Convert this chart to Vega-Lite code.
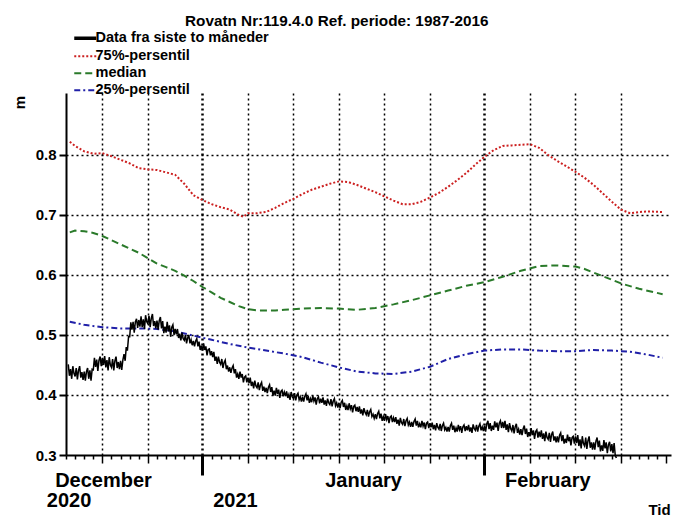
{
"$schema": "https://vega.github.io/schema/vega-lite/v6.json",
"width": 605,
"height": 362,
"autosize": {"type": "none"},
"padding": {"left": 66, "top": 93, "right": 3, "bottom": 62},
"background": "white",
"config": {"view": {"stroke": null}, "font": "Liberation Sans"},
"title": {"text": "Rovatn Nr:119.4.0 Ref. periode: 1987-2016", "anchor": "start", "frame": "group", "dx": 119, "offset": 2, "fontSize": 15.3, "fontWeight": "bold", "color": "black", "font": "Liberation Sans"},
"datasets": {
"months": [{"t":"2020-12-21T03:00","label":"December"},{"t":"2021-01-18T17:00","label":"January"},{"t":"2021-02-07T23:00","label":"February"}],
"years": [{"t":"2020-12-17T08:00","label":"2020"},{"t":"2021-01-04T15:00","label":"2021"}],
"q": [
{"s":"75%-persentil","t":"2020-12-17T10:00","v":0.822},{"s":"75%-persentil","t":"2020-12-18T00:00","v":0.815},{"s":"75%-persentil","t":"2020-12-19T00:00","v":0.806},{"s":"75%-persentil","t":"2020-12-20T00:00","v":0.802},{"s":"75%-persentil","t":"2020-12-21T00:00","v":0.803},{"s":"75%-persentil","t":"2020-12-22T00:00","v":0.798},{"s":"75%-persentil","t":"2020-12-23T00:00","v":0.792},{"s":"75%-persentil","t":"2020-12-24T00:00","v":0.786},{"s":"75%-persentil","t":"2020-12-25T00:00","v":0.778},{"s":"75%-persentil","t":"2020-12-26T00:00","v":0.776},{"s":"75%-persentil","t":"2020-12-27T00:00","v":0.775},{"s":"75%-persentil","t":"2020-12-28T00:00","v":0.771},{"s":"75%-persentil","t":"2020-12-29T00:00","v":0.767},{"s":"75%-persentil","t":"2020-12-30T00:00","v":0.752},{"s":"75%-persentil","t":"2020-12-31T00:00","v":0.733},{"s":"75%-persentil","t":"2021-01-01T00:00","v":0.725},{"s":"75%-persentil","t":"2021-01-02T00:00","v":0.718},{"s":"75%-persentil","t":"2021-01-03T00:00","v":0.713},{"s":"75%-persentil","t":"2021-01-04T00:00","v":0.709},{"s":"75%-persentil","t":"2021-01-05T00:00","v":0.700},{"s":"75%-persentil","t":"2021-01-05T12:00","v":0.697},{"s":"75%-persentil","t":"2021-01-06T00:00","v":0.703},{"s":"75%-persentil","t":"2021-01-07T00:00","v":0.703},{"s":"75%-persentil","t":"2021-01-08T00:00","v":0.705},{"s":"75%-persentil","t":"2021-01-09T00:00","v":0.712},{"s":"75%-persentil","t":"2021-01-10T00:00","v":0.720},{"s":"75%-persentil","t":"2021-01-11T00:00","v":0.727},{"s":"75%-persentil","t":"2021-01-12T00:00","v":0.735},{"s":"75%-persentil","t":"2021-01-13T00:00","v":0.742},{"s":"75%-persentil","t":"2021-01-14T00:00","v":0.747},{"s":"75%-persentil","t":"2021-01-15T00:00","v":0.752},{"s":"75%-persentil","t":"2021-01-16T00:00","v":0.756},{"s":"75%-persentil","t":"2021-01-17T00:00","v":0.755},{"s":"75%-persentil","t":"2021-01-18T00:00","v":0.750},{"s":"75%-persentil","t":"2021-01-19T00:00","v":0.744},{"s":"75%-persentil","t":"2021-01-20T00:00","v":0.738},{"s":"75%-persentil","t":"2021-01-21T00:00","v":0.731},{"s":"75%-persentil","t":"2021-01-22T00:00","v":0.724},{"s":"75%-persentil","t":"2021-01-23T00:00","v":0.718},{"s":"75%-persentil","t":"2021-01-24T00:00","v":0.718},{"s":"75%-persentil","t":"2021-01-25T00:00","v":0.722},{"s":"75%-persentil","t":"2021-01-26T00:00","v":0.729},{"s":"75%-persentil","t":"2021-01-27T00:00","v":0.737},{"s":"75%-persentil","t":"2021-01-28T00:00","v":0.747},{"s":"75%-persentil","t":"2021-01-29T00:00","v":0.758},{"s":"75%-persentil","t":"2021-01-30T00:00","v":0.770},{"s":"75%-persentil","t":"2021-01-31T00:00","v":0.784},{"s":"75%-persentil","t":"2021-02-01T00:00","v":0.797},{"s":"75%-persentil","t":"2021-02-02T00:00","v":0.808},{"s":"75%-persentil","t":"2021-02-03T00:00","v":0.815},{"s":"75%-persentil","t":"2021-02-04T00:00","v":0.816},{"s":"75%-persentil","t":"2021-02-05T00:00","v":0.817},{"s":"75%-persentil","t":"2021-02-06T00:00","v":0.818},{"s":"75%-persentil","t":"2021-02-07T00:00","v":0.812},{"s":"75%-persentil","t":"2021-02-08T00:00","v":0.800},{"s":"75%-persentil","t":"2021-02-09T00:00","v":0.790},{"s":"75%-persentil","t":"2021-02-10T00:00","v":0.781},{"s":"75%-persentil","t":"2021-02-11T00:00","v":0.772},{"s":"75%-persentil","t":"2021-02-12T00:00","v":0.762},{"s":"75%-persentil","t":"2021-02-13T00:00","v":0.750},{"s":"75%-persentil","t":"2021-02-14T00:00","v":0.736},{"s":"75%-persentil","t":"2021-02-15T00:00","v":0.722},{"s":"75%-persentil","t":"2021-02-16T00:00","v":0.709},{"s":"75%-persentil","t":"2021-02-17T00:00","v":0.703},{"s":"75%-persentil","t":"2021-02-18T00:00","v":0.705},{"s":"75%-persentil","t":"2021-02-19T00:00","v":0.706},{"s":"75%-persentil","t":"2021-02-20T14:00","v":0.705},
{"s":"median","t":"2020-12-17T10:00","v":0.671},{"s":"median","t":"2020-12-18T00:00","v":0.674},{"s":"median","t":"2020-12-19T00:00","v":0.673},{"s":"median","t":"2020-12-20T00:00","v":0.670},{"s":"median","t":"2020-12-21T00:00","v":0.665},{"s":"median","t":"2020-12-22T00:00","v":0.658},{"s":"median","t":"2020-12-23T00:00","v":0.651},{"s":"median","t":"2020-12-24T00:00","v":0.644},{"s":"median","t":"2020-12-25T00:00","v":0.637},{"s":"median","t":"2020-12-26T00:00","v":0.628},{"s":"median","t":"2020-12-27T00:00","v":0.619},{"s":"median","t":"2020-12-28T00:00","v":0.613},{"s":"median","t":"2020-12-29T00:00","v":0.607},{"s":"median","t":"2020-12-30T00:00","v":0.599},{"s":"median","t":"2020-12-31T00:00","v":0.590},{"s":"median","t":"2021-01-01T00:00","v":0.580},{"s":"median","t":"2021-01-02T00:00","v":0.571},{"s":"median","t":"2021-01-03T00:00","v":0.562},{"s":"median","t":"2021-01-04T00:00","v":0.555},{"s":"median","t":"2021-01-05T00:00","v":0.548},{"s":"median","t":"2021-01-06T00:00","v":0.543},{"s":"median","t":"2021-01-07T00:00","v":0.541},{"s":"median","t":"2021-01-09T00:00","v":0.541},{"s":"median","t":"2021-01-10T00:00","v":0.542},{"s":"median","t":"2021-01-12T00:00","v":0.544},{"s":"median","t":"2021-01-14T00:00","v":0.545},{"s":"median","t":"2021-01-16T00:00","v":0.544},{"s":"median","t":"2021-01-18T00:00","v":0.542},{"s":"median","t":"2021-01-20T00:00","v":0.545},{"s":"median","t":"2021-01-22T00:00","v":0.551},{"s":"median","t":"2021-01-24T00:00","v":0.558},{"s":"median","t":"2021-01-26T00:00","v":0.566},{"s":"median","t":"2021-01-28T00:00","v":0.574},{"s":"median","t":"2021-01-30T00:00","v":0.582},{"s":"median","t":"2021-02-01T00:00","v":0.588},{"s":"median","t":"2021-02-03T00:00","v":0.597},{"s":"median","t":"2021-02-05T00:00","v":0.607},{"s":"median","t":"2021-02-07T00:00","v":0.615},{"s":"median","t":"2021-02-09T00:00","v":0.616},{"s":"median","t":"2021-02-11T00:00","v":0.614},{"s":"median","t":"2021-02-12T00:00","v":0.610},{"s":"median","t":"2021-02-14T00:00","v":0.598},{"s":"median","t":"2021-02-16T00:00","v":0.586},{"s":"median","t":"2021-02-18T00:00","v":0.577},{"s":"median","t":"2021-02-20T14:00","v":0.568},
{"s":"25%-persentil","t":"2020-12-17T10:00","v":0.522},{"s":"25%-persentil","t":"2020-12-19T00:00","v":0.517},{"s":"25%-persentil","t":"2020-12-21T00:00","v":0.513},{"s":"25%-persentil","t":"2020-12-23T00:00","v":0.511},{"s":"25%-persentil","t":"2020-12-25T00:00","v":0.511},{"s":"25%-persentil","t":"2020-12-27T00:00","v":0.510},{"s":"25%-persentil","t":"2020-12-29T00:00","v":0.506},{"s":"25%-persentil","t":"2020-12-31T00:00","v":0.499},{"s":"25%-persentil","t":"2021-01-02T00:00","v":0.492},{"s":"25%-persentil","t":"2021-01-04T00:00","v":0.485},{"s":"25%-persentil","t":"2021-01-06T00:00","v":0.479},{"s":"25%-persentil","t":"2021-01-08T00:00","v":0.474},{"s":"25%-persentil","t":"2021-01-10T00:00","v":0.469},{"s":"25%-persentil","t":"2021-01-12T00:00","v":0.463},{"s":"25%-persentil","t":"2021-01-14T00:00","v":0.454},{"s":"25%-persentil","t":"2021-01-16T00:00","v":0.446},{"s":"25%-persentil","t":"2021-01-18T00:00","v":0.439},{"s":"25%-persentil","t":"2021-01-20T00:00","v":0.436},{"s":"25%-persentil","t":"2021-01-22T00:00","v":0.435},{"s":"25%-persentil","t":"2021-01-24T00:00","v":0.439},{"s":"25%-persentil","t":"2021-01-26T00:00","v":0.447},{"s":"25%-persentil","t":"2021-01-28T00:00","v":0.460},{"s":"25%-persentil","t":"2021-01-30T00:00","v":0.468},{"s":"25%-persentil","t":"2021-02-01T00:00","v":0.474},{"s":"25%-persentil","t":"2021-02-03T00:00","v":0.476},{"s":"25%-persentil","t":"2021-02-05T00:00","v":0.476},{"s":"25%-persentil","t":"2021-02-07T00:00","v":0.474},{"s":"25%-persentil","t":"2021-02-09T00:00","v":0.473},{"s":"25%-persentil","t":"2021-02-11T00:00","v":0.473},{"s":"25%-persentil","t":"2021-02-13T00:00","v":0.475},{"s":"25%-persentil","t":"2021-02-15T00:00","v":0.474},{"s":"25%-persentil","t":"2021-02-17T00:00","v":0.472},{"s":"25%-persentil","t":"2021-02-19T00:00","v":0.467},{"s":"25%-persentil","t":"2021-02-20T14:00","v":0.462}
],
"obs": [
{"t":"2020-12-17T06:00","v":0.451},{"t":"2020-12-17T09:00","v":0.432},{"t":"2020-12-17T12:00","v":0.443},{"t":"2020-12-17T15:00","v":0.427},{"t":"2020-12-17T18:00","v":0.448},{"t":"2020-12-17T21:00","v":0.436},
{"t":"2020-12-18T00:00","v":0.431},{"t":"2020-12-18T03:00","v":0.445},{"t":"2020-12-18T06:00","v":0.426},{"t":"2020-12-18T09:00","v":0.441},{"t":"2020-12-18T12:00","v":0.448},{"t":"2020-12-18T15:00","v":0.429},{"t":"2020-12-18T18:00","v":0.438},{"t":"2020-12-18T21:00","v":0.425},
{"t":"2020-12-19T00:00","v":0.439},{"t":"2020-12-19T03:00","v":0.424},{"t":"2020-12-19T06:00","v":0.439},{"t":"2020-12-19T09:00","v":0.445},{"t":"2020-12-19T12:00","v":0.427},{"t":"2020-12-19T15:00","v":0.441},{"t":"2020-12-19T18:00","v":0.424},{"t":"2020-12-19T21:00","v":0.443},
{"t":"2020-12-20T00:00","v":0.442},{"t":"2020-12-20T03:00","v":0.462},{"t":"2020-12-20T06:00","v":0.447},{"t":"2020-12-20T09:00","v":0.459},{"t":"2020-12-20T12:00","v":0.440},{"t":"2020-12-20T15:00","v":0.458},{"t":"2020-12-20T18:00","v":0.464},{"t":"2020-12-20T21:00","v":0.448},
{"t":"2020-12-21T00:00","v":0.462},{"t":"2020-12-21T03:00","v":0.450},{"t":"2020-12-21T06:00","v":0.465},{"t":"2020-12-21T09:00","v":0.446},{"t":"2020-12-21T12:00","v":0.458},{"t":"2020-12-21T15:00","v":0.441},{"t":"2020-12-21T18:00","v":0.463},{"t":"2020-12-21T21:00","v":0.450},
{"t":"2020-12-22T00:00","v":0.446},{"t":"2020-12-22T03:00","v":0.460},{"t":"2020-12-22T06:00","v":0.441},{"t":"2020-12-22T09:00","v":0.457},{"t":"2020-12-22T12:00","v":0.464},{"t":"2020-12-22T15:00","v":0.445},{"t":"2020-12-22T18:00","v":0.455},{"t":"2020-12-22T21:00","v":0.443},
{"t":"2020-12-23T00:00","v":0.457},{"t":"2020-12-23T03:00","v":0.442},{"t":"2020-12-23T06:00","v":0.458},{"t":"2020-12-23T09:00","v":0.468},{"t":"2020-12-23T12:00","v":0.457},{"t":"2020-12-23T15:00","v":0.480},{"t":"2020-12-23T18:00","v":0.474},{"t":"2020-12-23T21:00","v":0.497},
{"t":"2020-12-24T00:00","v":0.497},{"t":"2020-12-24T03:00","v":0.521},{"t":"2020-12-24T06:00","v":0.509},{"t":"2020-12-24T09:00","v":0.522},{"t":"2020-12-24T12:00","v":0.504},{"t":"2020-12-24T15:00","v":0.522},{"t":"2020-12-24T18:00","v":0.527},{"t":"2020-12-24T21:00","v":0.512},
{"t":"2020-12-25T00:00","v":0.525},{"t":"2020-12-25T03:00","v":0.514},{"t":"2020-12-25T06:00","v":0.531},{"t":"2020-12-25T09:00","v":0.513},{"t":"2020-12-25T12:00","v":0.526},{"t":"2020-12-25T15:00","v":0.510},{"t":"2020-12-25T18:00","v":0.533},{"t":"2020-12-25T21:00","v":0.522},
{"t":"2020-12-26T00:00","v":0.519},{"t":"2020-12-26T03:00","v":0.532},{"t":"2020-12-26T06:00","v":0.513},{"t":"2020-12-26T09:00","v":0.528},{"t":"2020-12-26T12:00","v":0.535},{"t":"2020-12-26T15:00","v":0.515},{"t":"2020-12-26T18:00","v":0.523},{"t":"2020-12-26T21:00","v":0.511},
{"t":"2020-12-27T00:00","v":0.524},{"t":"2020-12-27T03:00","v":0.509},{"t":"2020-12-27T06:00","v":0.524},{"t":"2020-12-27T09:00","v":0.530},{"t":"2020-12-27T12:00","v":0.511},{"t":"2020-12-27T15:00","v":0.523},{"t":"2020-12-27T18:00","v":0.503},{"t":"2020-12-27T21:00","v":0.514},
{"t":"2020-12-28T00:00","v":0.504},{"t":"2020-12-28T03:00","v":0.522},{"t":"2020-12-28T06:00","v":0.506},{"t":"2020-12-28T09:00","v":0.516},{"t":"2020-12-28T12:00","v":0.497},{"t":"2020-12-28T15:00","v":0.513},{"t":"2020-12-28T18:00","v":0.517},{"t":"2020-12-28T21:00","v":0.500},
{"t":"2020-12-29T00:00","v":0.510},{"t":"2020-12-29T03:00","v":0.501},{"t":"2020-12-29T06:00","v":0.510},{"t":"2020-12-29T09:00","v":0.495},{"t":"2020-12-29T12:00","v":0.502},{"t":"2020-12-29T15:00","v":0.491},{"t":"2020-12-29T18:00","v":0.504},{"t":"2020-12-29T21:00","v":0.494},
{"t":"2020-12-30T00:00","v":0.491},{"t":"2020-12-30T03:00","v":0.500},{"t":"2020-12-30T06:00","v":0.486},{"t":"2020-12-30T09:00","v":0.495},{"t":"2020-12-30T12:00","v":0.500},{"t":"2020-12-30T15:00","v":0.486},{"t":"2020-12-30T18:00","v":0.492},{"t":"2020-12-30T21:00","v":0.483},
{"t":"2020-12-31T00:00","v":0.490},{"t":"2020-12-31T03:00","v":0.481},{"t":"2020-12-31T06:00","v":0.490},{"t":"2020-12-31T09:00","v":0.494},{"t":"2020-12-31T12:00","v":0.481},{"t":"2020-12-31T15:00","v":0.489},{"t":"2020-12-31T18:00","v":0.475},{"t":"2020-12-31T21:00","v":0.482},
{"t":"2021-01-01T00:00","v":0.474},{"t":"2021-01-01T03:00","v":0.486},{"t":"2021-01-01T06:00","v":0.475},{"t":"2021-01-01T09:00","v":0.481},{"t":"2021-01-01T12:00","v":0.466},{"t":"2021-01-01T15:00","v":0.476},{"t":"2021-01-01T18:00","v":0.477},{"t":"2021-01-01T21:00","v":0.466},
{"t":"2021-01-02T00:00","v":0.473},{"t":"2021-01-02T03:00","v":0.463},{"t":"2021-01-02T06:00","v":0.472},{"t":"2021-01-02T09:00","v":0.457},{"t":"2021-01-02T12:00","v":0.464},{"t":"2021-01-02T15:00","v":0.452},{"t":"2021-01-02T18:00","v":0.464},{"t":"2021-01-02T21:00","v":0.455},
{"t":"2021-01-03T00:00","v":0.451},{"t":"2021-01-03T03:00","v":0.460},{"t":"2021-01-03T06:00","v":0.445},{"t":"2021-01-03T09:00","v":0.454},{"t":"2021-01-03T12:00","v":0.458},{"t":"2021-01-03T15:00","v":0.443},{"t":"2021-01-03T18:00","v":0.449},{"t":"2021-01-03T21:00","v":0.439},
{"t":"2021-01-04T00:00","v":0.446},{"t":"2021-01-04T03:00","v":0.437},{"t":"2021-01-04T06:00","v":0.445},{"t":"2021-01-04T09:00","v":0.449},{"t":"2021-01-04T12:00","v":0.436},{"t":"2021-01-04T15:00","v":0.443},{"t":"2021-01-04T18:00","v":0.429},{"t":"2021-01-04T21:00","v":0.435},
{"t":"2021-01-05T00:00","v":0.427},{"t":"2021-01-05T03:00","v":0.439},{"t":"2021-01-05T06:00","v":0.429},{"t":"2021-01-05T09:00","v":0.435},{"t":"2021-01-05T12:00","v":0.421},{"t":"2021-01-05T15:00","v":0.430},{"t":"2021-01-05T18:00","v":0.432},{"t":"2021-01-05T21:00","v":0.421},
{"t":"2021-01-06T00:00","v":0.429},{"t":"2021-01-06T03:00","v":0.420},{"t":"2021-01-06T06:00","v":0.429},{"t":"2021-01-06T09:00","v":0.415},{"t":"2021-01-06T12:00","v":0.422},{"t":"2021-01-06T15:00","v":0.411},{"t":"2021-01-06T18:00","v":0.424},{"t":"2021-01-06T21:00","v":0.415},
{"t":"2021-01-07T00:00","v":0.412},{"t":"2021-01-07T03:00","v":0.421},{"t":"2021-01-07T06:00","v":0.408},{"t":"2021-01-07T09:00","v":0.417},{"t":"2021-01-07T12:00","v":0.421},{"t":"2021-01-07T15:00","v":0.407},{"t":"2021-01-07T18:00","v":0.414},{"t":"2021-01-07T21:00","v":0.405},
{"t":"2021-01-08T00:00","v":0.412},{"t":"2021-01-08T03:00","v":0.403},{"t":"2021-01-08T06:00","v":0.413},{"t":"2021-01-08T09:00","v":0.417},{"t":"2021-01-08T12:00","v":0.405},{"t":"2021-01-08T15:00","v":0.413},{"t":"2021-01-08T18:00","v":0.399},{"t":"2021-01-08T21:00","v":0.407},
{"t":"2021-01-09T00:00","v":0.399},{"t":"2021-01-09T03:00","v":0.412},{"t":"2021-01-09T06:00","v":0.402},{"t":"2021-01-09T09:00","v":0.409},{"t":"2021-01-09T12:00","v":0.395},{"t":"2021-01-09T15:00","v":0.406},{"t":"2021-01-09T18:00","v":0.408},{"t":"2021-01-09T21:00","v":0.398},
{"t":"2021-01-10T00:00","v":0.405},{"t":"2021-01-10T03:00","v":0.398},{"t":"2021-01-10T06:00","v":0.406},{"t":"2021-01-10T09:00","v":0.395},{"t":"2021-01-10T12:00","v":0.401},{"t":"2021-01-10T15:00","v":0.392},{"t":"2021-01-10T18:00","v":0.405},{"t":"2021-01-10T21:00","v":0.397},
{"t":"2021-01-11T00:00","v":0.394},{"t":"2021-01-11T03:00","v":0.403},{"t":"2021-01-11T06:00","v":0.391},{"t":"2021-01-11T09:00","v":0.400},{"t":"2021-01-11T12:00","v":0.403},{"t":"2021-01-11T15:00","v":0.392},{"t":"2021-01-11T18:00","v":0.397},{"t":"2021-01-11T21:00","v":0.389},
{"t":"2021-01-12T00:00","v":0.397},{"t":"2021-01-12T03:00","v":0.389},{"t":"2021-01-12T06:00","v":0.398},{"t":"2021-01-12T09:00","v":0.402},{"t":"2021-01-12T12:00","v":0.391},{"t":"2021-01-12T15:00","v":0.398},{"t":"2021-01-12T18:00","v":0.387},{"t":"2021-01-12T21:00","v":0.394},
{"t":"2021-01-13T00:00","v":0.388},{"t":"2021-01-13T03:00","v":0.399},{"t":"2021-01-13T06:00","v":0.390},{"t":"2021-01-13T09:00","v":0.396},{"t":"2021-01-13T12:00","v":0.384},{"t":"2021-01-13T15:00","v":0.394},{"t":"2021-01-13T18:00","v":0.397},{"t":"2021-01-13T21:00","v":0.386},
{"t":"2021-01-14T00:00","v":0.394},{"t":"2021-01-14T03:00","v":0.387},{"t":"2021-01-14T06:00","v":0.396},{"t":"2021-01-14T09:00","v":0.384},{"t":"2021-01-14T12:00","v":0.391},{"t":"2021-01-14T15:00","v":0.382},{"t":"2021-01-14T18:00","v":0.394},{"t":"2021-01-14T21:00","v":0.387},
{"t":"2021-01-15T00:00","v":0.384},{"t":"2021-01-15T03:00","v":0.393},{"t":"2021-01-15T06:00","v":0.381},{"t":"2021-01-15T09:00","v":0.390},{"t":"2021-01-15T12:00","v":0.394},{"t":"2021-01-15T15:00","v":0.382},{"t":"2021-01-15T18:00","v":0.387},{"t":"2021-01-15T21:00","v":0.379},
{"t":"2021-01-16T00:00","v":0.387},{"t":"2021-01-16T03:00","v":0.378},{"t":"2021-01-16T06:00","v":0.388},{"t":"2021-01-16T09:00","v":0.391},{"t":"2021-01-16T12:00","v":0.380},{"t":"2021-01-16T15:00","v":0.387},{"t":"2021-01-16T18:00","v":0.375},{"t":"2021-01-16T21:00","v":0.382},
{"t":"2021-01-17T00:00","v":0.375},{"t":"2021-01-17T03:00","v":0.386},{"t":"2021-01-17T06:00","v":0.377},{"t":"2021-01-17T09:00","v":0.383},{"t":"2021-01-17T12:00","v":0.371},{"t":"2021-01-17T15:00","v":0.381},{"t":"2021-01-17T18:00","v":0.383},{"t":"2021-01-17T21:00","v":0.373},
{"t":"2021-01-18T00:00","v":0.380},{"t":"2021-01-18T03:00","v":0.372},{"t":"2021-01-18T06:00","v":0.381},{"t":"2021-01-18T09:00","v":0.369},{"t":"2021-01-18T12:00","v":0.376},{"t":"2021-01-18T15:00","v":0.366},{"t":"2021-01-18T18:00","v":0.378},{"t":"2021-01-18T21:00","v":0.371},
{"t":"2021-01-19T00:00","v":0.367},{"t":"2021-01-19T03:00","v":0.375},{"t":"2021-01-19T06:00","v":0.364},{"t":"2021-01-19T09:00","v":0.372},{"t":"2021-01-19T12:00","v":0.376},{"t":"2021-01-19T15:00","v":0.364},{"t":"2021-01-19T18:00","v":0.368},{"t":"2021-01-19T21:00","v":0.361},
{"t":"2021-01-20T00:00","v":0.368},{"t":"2021-01-20T03:00","v":0.360},{"t":"2021-01-20T06:00","v":0.369},{"t":"2021-01-20T09:00","v":0.373},{"t":"2021-01-20T12:00","v":0.361},{"t":"2021-01-20T15:00","v":0.369},{"t":"2021-01-20T18:00","v":0.357},{"t":"2021-01-20T21:00","v":0.364},
{"t":"2021-01-21T00:00","v":0.357},{"t":"2021-01-21T03:00","v":0.368},{"t":"2021-01-21T06:00","v":0.359},{"t":"2021-01-21T09:00","v":0.365},{"t":"2021-01-21T12:00","v":0.353},{"t":"2021-01-21T15:00","v":0.363},{"t":"2021-01-21T18:00","v":0.365},{"t":"2021-01-21T21:00","v":0.355},
{"t":"2021-01-22T00:00","v":0.362},{"t":"2021-01-22T03:00","v":0.355},{"t":"2021-01-22T06:00","v":0.363},{"t":"2021-01-22T09:00","v":0.352},{"t":"2021-01-22T12:00","v":0.359},{"t":"2021-01-22T15:00","v":0.349},{"t":"2021-01-22T18:00","v":0.362},{"t":"2021-01-22T21:00","v":0.354},
{"t":"2021-01-23T00:00","v":0.351},{"t":"2021-01-23T03:00","v":0.360},{"t":"2021-01-23T06:00","v":0.348},{"t":"2021-01-23T09:00","v":0.357},{"t":"2021-01-23T12:00","v":0.361},{"t":"2021-01-23T15:00","v":0.350},{"t":"2021-01-23T18:00","v":0.355},{"t":"2021-01-23T21:00","v":0.347},
{"t":"2021-01-24T00:00","v":0.355},{"t":"2021-01-24T03:00","v":0.347},{"t":"2021-01-24T06:00","v":0.356},{"t":"2021-01-24T09:00","v":0.360},{"t":"2021-01-24T12:00","v":0.349},{"t":"2021-01-24T15:00","v":0.357},{"t":"2021-01-24T18:00","v":0.346},{"t":"2021-01-24T21:00","v":0.352},
{"t":"2021-01-25T00:00","v":0.346},{"t":"2021-01-25T03:00","v":0.357},{"t":"2021-01-25T06:00","v":0.348},{"t":"2021-01-25T09:00","v":0.354},{"t":"2021-01-25T12:00","v":0.343},{"t":"2021-01-25T15:00","v":0.353},{"t":"2021-01-25T18:00","v":0.355},{"t":"2021-01-25T21:00","v":0.345},
{"t":"2021-01-26T00:00","v":0.353},{"t":"2021-01-26T03:00","v":0.346},{"t":"2021-01-26T06:00","v":0.354},{"t":"2021-01-26T09:00","v":0.343},{"t":"2021-01-26T12:00","v":0.350},{"t":"2021-01-26T15:00","v":0.341},{"t":"2021-01-26T18:00","v":0.353},{"t":"2021-01-26T21:00","v":0.346},
{"t":"2021-01-27T00:00","v":0.343},{"t":"2021-01-27T03:00","v":0.352},{"t":"2021-01-27T06:00","v":0.340},{"t":"2021-01-27T09:00","v":0.349},{"t":"2021-01-27T12:00","v":0.353},{"t":"2021-01-27T15:00","v":0.342},{"t":"2021-01-27T18:00","v":0.346},{"t":"2021-01-27T21:00","v":0.339},
{"t":"2021-01-28T00:00","v":0.347},{"t":"2021-01-28T03:00","v":0.339},{"t":"2021-01-28T06:00","v":0.349},{"t":"2021-01-28T09:00","v":0.353},{"t":"2021-01-28T12:00","v":0.342},{"t":"2021-01-28T15:00","v":0.349},{"t":"2021-01-28T18:00","v":0.338},{"t":"2021-01-28T21:00","v":0.345},
{"t":"2021-01-29T00:00","v":0.339},{"t":"2021-01-29T03:00","v":0.350},{"t":"2021-01-29T06:00","v":0.342},{"t":"2021-01-29T09:00","v":0.348},{"t":"2021-01-29T12:00","v":0.337},{"t":"2021-01-29T15:00","v":0.347},{"t":"2021-01-29T18:00","v":0.350},{"t":"2021-01-29T21:00","v":0.340},
{"t":"2021-01-30T00:00","v":0.348},{"t":"2021-01-30T03:00","v":0.341},{"t":"2021-01-30T06:00","v":0.350},{"t":"2021-01-30T09:00","v":0.339},{"t":"2021-01-30T12:00","v":0.346},{"t":"2021-01-30T15:00","v":0.337},{"t":"2021-01-30T18:00","v":0.351},{"t":"2021-01-30T21:00","v":0.344},
{"t":"2021-01-31T00:00","v":0.341},{"t":"2021-01-31T03:00","v":0.350},{"t":"2021-01-31T06:00","v":0.339},{"t":"2021-01-31T09:00","v":0.348},{"t":"2021-01-31T12:00","v":0.352},{"t":"2021-01-31T15:00","v":0.341},{"t":"2021-01-31T18:00","v":0.347},{"t":"2021-01-31T21:00","v":0.340},
{"t":"2021-02-01T00:00","v":0.349},{"t":"2021-02-01T03:00","v":0.339},{"t":"2021-02-01T06:00","v":0.352},{"t":"2021-02-01T09:00","v":0.357},{"t":"2021-02-01T12:00","v":0.343},{"t":"2021-02-01T15:00","v":0.353},{"t":"2021-02-01T18:00","v":0.340},{"t":"2021-02-01T21:00","v":0.349},
{"t":"2021-02-02T00:00","v":0.342},{"t":"2021-02-02T03:00","v":0.356},{"t":"2021-02-02T06:00","v":0.346},{"t":"2021-02-02T09:00","v":0.354},{"t":"2021-02-02T12:00","v":0.340},{"t":"2021-02-02T15:00","v":0.353},{"t":"2021-02-02T18:00","v":0.357},{"t":"2021-02-02T21:00","v":0.345},
{"t":"2021-02-03T00:00","v":0.355},{"t":"2021-02-03T03:00","v":0.345},{"t":"2021-02-03T06:00","v":0.357},{"t":"2021-02-03T09:00","v":0.342},{"t":"2021-02-03T12:00","v":0.351},{"t":"2021-02-03T15:00","v":0.338},{"t":"2021-02-03T18:00","v":0.353},{"t":"2021-02-03T21:00","v":0.344},
{"t":"2021-02-04T00:00","v":0.340},{"t":"2021-02-04T03:00","v":0.350},{"t":"2021-02-04T06:00","v":0.336},{"t":"2021-02-04T09:00","v":0.347},{"t":"2021-02-04T12:00","v":0.352},{"t":"2021-02-04T15:00","v":0.337},{"t":"2021-02-04T18:00","v":0.343},{"t":"2021-02-04T21:00","v":0.334},
{"t":"2021-02-05T00:00","v":0.343},{"t":"2021-02-05T03:00","v":0.333},{"t":"2021-02-05T06:00","v":0.344},{"t":"2021-02-05T09:00","v":0.349},{"t":"2021-02-05T12:00","v":0.335},{"t":"2021-02-05T15:00","v":0.344},{"t":"2021-02-05T18:00","v":0.330},{"t":"2021-02-05T21:00","v":0.338},
{"t":"2021-02-06T00:00","v":0.331},{"t":"2021-02-06T03:00","v":0.345},{"t":"2021-02-06T06:00","v":0.333},{"t":"2021-02-06T09:00","v":0.341},{"t":"2021-02-06T12:00","v":0.327},{"t":"2021-02-06T15:00","v":0.339},{"t":"2021-02-06T18:00","v":0.342},{"t":"2021-02-06T21:00","v":0.329},
{"t":"2021-02-07T00:00","v":0.339},{"t":"2021-02-07T03:00","v":0.330},{"t":"2021-02-07T06:00","v":0.341},{"t":"2021-02-07T09:00","v":0.327},{"t":"2021-02-07T12:00","v":0.336},{"t":"2021-02-07T15:00","v":0.323},{"t":"2021-02-07T18:00","v":0.339},{"t":"2021-02-07T21:00","v":0.329},
{"t":"2021-02-08T00:00","v":0.326},{"t":"2021-02-08T03:00","v":0.337},{"t":"2021-02-08T06:00","v":0.322},{"t":"2021-02-08T09:00","v":0.334},{"t":"2021-02-08T12:00","v":0.339},{"t":"2021-02-08T15:00","v":0.324},{"t":"2021-02-08T18:00","v":0.331},{"t":"2021-02-08T21:00","v":0.321},
{"t":"2021-02-09T00:00","v":0.331},{"t":"2021-02-09T03:00","v":0.321},{"t":"2021-02-09T06:00","v":0.333},{"t":"2021-02-09T09:00","v":0.337},{"t":"2021-02-09T12:00","v":0.323},{"t":"2021-02-09T15:00","v":0.333},{"t":"2021-02-09T18:00","v":0.319},{"t":"2021-02-09T21:00","v":0.327},
{"t":"2021-02-10T00:00","v":0.320},{"t":"2021-02-10T03:00","v":0.334},{"t":"2021-02-10T06:00","v":0.323},{"t":"2021-02-10T09:00","v":0.330},{"t":"2021-02-10T12:00","v":0.316},{"t":"2021-02-10T15:00","v":0.329},{"t":"2021-02-10T18:00","v":0.331},{"t":"2021-02-10T21:00","v":0.319},
{"t":"2021-02-11T00:00","v":0.331},{"t":"2021-02-11T03:00","v":0.320},{"t":"2021-02-11T06:00","v":0.333},{"t":"2021-02-11T09:00","v":0.315},{"t":"2021-02-11T12:00","v":0.326},{"t":"2021-02-11T15:00","v":0.311},{"t":"2021-02-11T18:00","v":0.331},{"t":"2021-02-11T21:00","v":0.319},
{"t":"2021-02-12T00:00","v":0.315},{"t":"2021-02-12T03:00","v":0.329},{"t":"2021-02-12T06:00","v":0.310},{"t":"2021-02-12T09:00","v":0.324},{"t":"2021-02-12T12:00","v":0.331},{"t":"2021-02-12T15:00","v":0.312},{"t":"2021-02-12T18:00","v":0.321},{"t":"2021-02-12T21:00","v":0.309},
{"t":"2021-02-13T00:00","v":0.321},{"t":"2021-02-13T03:00","v":0.309},{"t":"2021-02-13T06:00","v":0.323},{"t":"2021-02-13T09:00","v":0.329},{"t":"2021-02-13T12:00","v":0.313},{"t":"2021-02-13T15:00","v":0.324},{"t":"2021-02-13T18:00","v":0.306},{"t":"2021-02-13T21:00","v":0.316},
{"t":"2021-02-14T00:00","v":0.307},{"t":"2021-02-14T03:00","v":0.325},{"t":"2021-02-14T06:00","v":0.311},{"t":"2021-02-14T09:00","v":0.321},{"t":"2021-02-14T12:00","v":0.303},{"t":"2021-02-14T15:00","v":0.317},{"t":"2021-02-14T18:00","v":0.322},{"t":"2021-02-14T21:00","v":0.306},
{"t":"2021-02-15T00:00","v":0.318},{"t":"2021-02-15T03:00","v":0.303},{"t":"2021-02-15T06:00","v":0.320},{"t":"2021-02-15T09:00","v":0.299},{"t":"2021-02-15T12:00","v":0.295}
]
},
"layer": [
{
"data": {"name": "q"},
"mark": {"type": "line", "strokeWidth": 2, "clip": false},
"encoding": {
"x": {"field": "t", "type": "temporal",
 "scale": {"domain": [{"year": 2020, "month": 12, "date": 17}, {"year": 2021, "month": 2, "date": 21, "hours": 12}]},
 "axis": {"title": "Tid", "titleX": 593, "titleY": 59, "titleAlign": "center", "titleBaseline": "alphabetic", "titleFontSize": 15, "titleFontWeight": "bold", "titleColor": "black", "titleFont": "Liberation Sans",
  "labels": false, "tickCount": {"interval": "day", "step": 1}, "tickColor": "black",
  "tickSize": {"condition": [{"test": "date(datum.value) == 1", "value": 20}, {"test": "(date(datum.value) - 1) % 5 == 0 && date(datum.value) <= 26", "value": 8}], "value": 4},
  "tickWidth": {"condition": {"test": "date(datum.value) == 1", "value": 3}, "value": 1.5},
  "domainColor": "black", "domainWidth": 2,
  "grid": true, "gridColor": "black", "gridDash": [2, 3],
  "gridWidth": {"condition": {"test": "date(datum.value) == 1", "value": 2.5}, "value": 1.5},
  "gridOpacity": {"condition": {"test": "date(datum.value) == 1 || ((date(datum.value) - 1) % 5 == 0 && date(datum.value) <= 26 && datum.value < datetime(2021, 1, 19))", "value": 1}, "value": 0}
 }},
"y": {"field": "v", "type": "quantitative",
 "scale": {"domain": [0.3, 0.9033], "nice": false, "zero": false},
 "axis": {"values": [0.3, 0.4, 0.5, 0.6, 0.7, 0.8], "format": ".1f", "title": "m", "titleAngle": -90, "titleX": -47, "titleY": 9, "titleAlign": "center", "titleBaseline": "middle", "titleFontSize": 15, "titleFontWeight": "bold", "titleColor": "black", "titleFont": "Liberation Sans",
  "labelFontSize": 15, "labelFontWeight": "bold", "labelColor": "black", "labelFont": "Liberation Sans", "labelPadding": 3,
  "tickSize": 7, "tickWidth": 2, "tickColor": "black", "domainColor": "black", "domainWidth": 2,
  "grid": true, "gridColor": "black", "gridDash": [2, 3], "gridWidth": 1.5,
  "gridOpacity": {"condition": {"test": "datum.value < 0.35", "value": 0}, "value": 1}
 }},
"color": {"field": "s", "type": "nominal",
 "scale": {"domain": ["Data fra siste to måneder", "75%-persentil", "median", "25%-persentil"], "range": ["#000000", "#cc2020", "#2a7a2a", "#2020a8"]},
 "legend": {"orient": "none", "legendX": 12, "legendY": -62, "title": null, "symbolType": "stroke", "symbolSize": 484, "symbolStrokeWidth": 2, "labelFont": "Liberation Sans", "labelFontWeight": "bold", "labelFontSize": 14.5, "labelColor": "black", "labelLimit": 400, "labelOffset": 3,
  "encode": {"symbols": {"update": {"strokeWidth": {"signal": "datum.value === 'Data fra siste to måneder' ? 3.5 : 2"}}}}}},
"strokeDash": {"field": "s", "type": "nominal",
 "scale": {"domain": ["Data fra siste to måneder", "75%-persentil", "median", "25%-persentil"], "range": [[1, 0], [2, 2], [7, 4], [6, 3, 2, 3]]},
 "legend": {"orient": "none", "legendX": 12, "legendY": -62, "title": null, "symbolType": "stroke", "symbolSize": 484, "symbolStrokeWidth": 2, "labelFont": "Liberation Sans", "labelFontWeight": "bold", "labelFontSize": 14.5, "labelColor": "black", "labelLimit": 400, "labelOffset": 3,
  "encode": {"symbols": {"update": {"strokeWidth": {"signal": "datum.value === 'Data fra siste to måneder' ? 3.5 : 2"}}}}}}
}
},
{
"data": {"name": "months"},
"mark": {"type": "text", "align": "center", "baseline": "alphabetic", "dy": 32, "fontSize": 20, "fontWeight": "bold", "font": "Liberation Sans", "color": "black", "clip": false},
"encoding": {"x": {"field": "t", "type": "temporal"}, "y": {"datum": 0.3, "type": "quantitative"}, "text": {"field": "label"}}
},
{
"data": {"name": "years"},
"mark": {"type": "text", "align": "center", "baseline": "alphabetic", "dy": 52, "fontSize": 20, "fontWeight": "bold", "font": "Liberation Sans", "color": "black", "clip": false},
"encoding": {"x": {"field": "t", "type": "temporal"}, "y": {"datum": 0.3, "type": "quantitative"}, "text": {"field": "label"}}
},
{
"mark": {"type": "rule", "color": "black", "strokeWidth": 1.8, "clip": false},
"encoding": {"x": {"datum": {"year": 2020, "month": 12, "date": 17}, "type": "temporal"}, "x2": {"datum": {"year": 2020, "month": 12, "date": 16, "hours": 12}}, "y": {"datum": 0.9033, "type": "quantitative"}, "y2": {"datum": 0.8958}}
},
{
"mark": {"type": "rule", "color": "black", "strokeWidth": 1.8, "clip": false},
"encoding": {"x": {"datum": {"year": 2020, "month": 12, "date": 17}, "type": "temporal"}, "x2": {"datum": {"year": 2020, "month": 12, "date": 17, "hours": 12}}, "y": {"datum": 0.9033, "type": "quantitative"}, "y2": {"datum": 0.8958}}
},
{
"mark": {"type": "rule", "color": "black", "strokeWidth": 1.8, "clip": false},
"encoding": {"x": {"datum": {"year": 2021, "month": 2, "date": 21, "hours": 12}, "type": "temporal"}, "x2": {"datum": {"year": 2021, "month": 2, "date": 21}}, "y": {"datum": 0.3, "type": "quantitative"}, "y2": {"datum": 0.3075}}
},
{
"mark": {"type": "rule", "color": "black", "strokeWidth": 1.8, "clip": false},
"encoding": {"x": {"datum": {"year": 2021, "month": 2, "date": 21, "hours": 12}, "type": "temporal"}, "x2": {"datum": {"year": 2021, "month": 2, "date": 21}}, "y": {"datum": 0.3, "type": "quantitative"}, "y2": {"datum": 0.2925}}
},
{
"data": {"name": "obs"},
"mark": {"type": "line", "strokeWidth": 1.5, "clip": false},
"encoding": {
"x": {"field": "t", "type": "temporal"},
"y": {"field": "v", "type": "quantitative"},
"color": {"datum": "Data fra siste to måneder", "type": "nominal", "legend": null},
"strokeDash": {"datum": "Data fra siste to måneder", "type": "nominal", "legend": null}
}
}
]
}
